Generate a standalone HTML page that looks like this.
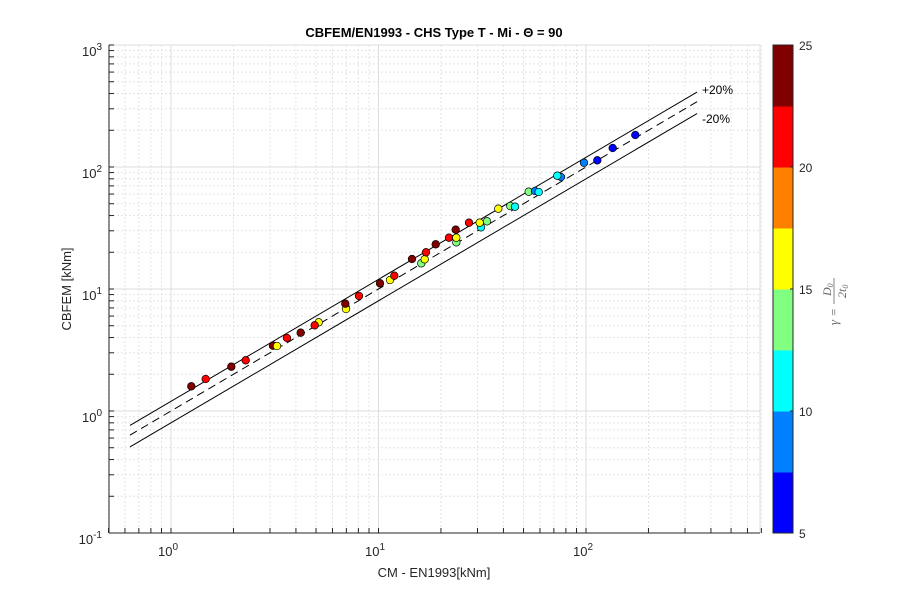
<!DOCTYPE html>
<html><head><meta charset="utf-8"><style>
body{margin:0;background:#fff;width:900px;height:600px;overflow:hidden}
svg{font-family:"Liberation Sans",Arial,sans-serif}
</style></head><body>
<svg id="s" width="900" height="600" xmlns="http://www.w3.org/2000/svg">
<rect width="900" height="600" fill="#fff"/>
<g id="grid"></g>
<g id="lines"></g>
<g id="dots"></g>
<g id="axes"></g>
<text x="434" y="37" font-size="13" font-weight="bold" text-anchor="middle" fill="#000">CBFEM/EN1993 - CHS Type T - Mi - Θ = 90</text>
<text x="434" y="577" font-size="13" text-anchor="middle" fill="#262626">CM - EN1993[kNm]</text>
<text transform="translate(71,289) rotate(-90)" font-size="13" text-anchor="middle" fill="#262626">CBFEM [kNm]</text>
<g font-size="13" fill="#262626" text-anchor="end">
<text x="102" y="56">10<tspan dy="-6" font-size="10">3</tspan></text>
<text x="102" y="178">10<tspan dy="-6" font-size="10">2</tspan></text>
<text x="102" y="300">10<tspan dy="-6" font-size="10">1</tspan></text>
<text x="102" y="422">10<tspan dy="-6" font-size="10">0</tspan></text>
<text x="102" y="544">10<tspan dy="-6" font-size="10">-1</tspan></text>
</g>
<g font-size="13" fill="#262626" text-anchor="middle">
<text x="168" y="556">10<tspan dy="-6" font-size="10">0</tspan></text>
<text x="375" y="556">10<tspan dy="-6" font-size="10">1</tspan></text>
<text x="583" y="556">10<tspan dy="-6" font-size="10">2</tspan></text>
</g>
<text x="702" y="94" font-size="12" fill="#000">+20%</text>
<text x="702" y="123" font-size="12" fill="#000">-20%</text>
<g id="cb"></g>
<g font-size="12" fill="#262626">
<text x="799" y="50">25</text>
<text x="799" y="172">20</text>
<text x="799" y="294">15</text>
<text x="799" y="416">10</text>
<text x="799" y="538">5</text>
</g>
<g transform="translate(838,300) rotate(-90)" fill="#666" font-family="Liberation Serif,serif" font-style="italic" font-size="13">
<text x="-8" y="0" text-anchor="end">γ =</text>
<text x="4" y="-7" font-size="12">D<tspan font-size="8" dy="2">0</tspan></text>
<line x1="-4" y1="-4" x2="22" y2="-4" stroke="#666" stroke-width="0.8"/>
<text x="2" y="8" font-size="12">2t<tspan font-size="8" dy="2">0</tspan></text>
</g>
</svg>
<script>
var NS="http://www.w3.org/2000/svg";
function X(v){return 171+207.5*Math.log10(v);}
function Y(v){return 411-122*Math.log10(v);}
function el(p,t,a){var e=document.createElementNS(NS,t);for(var k in a)e.setAttribute(k,a[k]);document.getElementById(p).appendChild(e);return e;}
var L=109,R=760,T=45,B=533;
var xs=[0.5,0.6,0.7,0.8,0.9];for(var d=0;d<3;d++)for(var m=1;m<10;m++){var v=m*Math.pow(10,d);if(v<=700)xs.push(v);}
xs.forEach(function(v){var x=X(v),maj=Math.abs(Math.log10(v)%1)<1e-9;
el("grid","line",{x1:x,x2:x,y1:T,y2:B,stroke:maj?"#dcdcdc":"#e4e4e4","stroke-width":1,"stroke-dasharray":maj?"":"2,2"});
el("axes","line",{x1:x,x2:x,y1:B,y2:B-5,stroke:"#262626","stroke-width":1});});
var ys=[];for(var d=-1;d<3;d++)for(var m=1;m<10;m++)ys.push(m*Math.pow(10,d));ys.push(1000);
ys.forEach(function(v){var y=Y(v),maj=Math.abs(Math.log10(v)-Math.round(Math.log10(v)))<1e-9;
if(v>0.1&&v<1000)el("grid","line",{x1:L,x2:R,y1:y,y2:y,stroke:maj?"#dcdcdc":"#e4e4e4","stroke-width":1,"stroke-dasharray":maj?"":"2,2"});
el("axes","line",{x1:L,x2:L+5,y1:y,y2:y,stroke:"#262626","stroke-width":1});});
el("grid","line",{x1:L,x2:R,y1:T,y2:T,stroke:"#dcdcdc"});
el("grid","line",{x1:R,x2:R,y1:T,y2:B,stroke:"#dcdcdc"});
el("axes","line",{x1:L,x2:R,y1:B,y2:B,stroke:"#262626"});
el("axes","line",{x1:L,x2:L,y1:T,y2:B,stroke:"#262626"});
var x0=0.634,x1=343;
[[1.2,""],[1,"8,5"],[0.8,""]].forEach(function(f){
el("lines","line",{x1:X(x0),y1:Y(x0*f[0]),x2:X(x1),y2:Y(x1*f[0]),stroke:"#000","stroke-width":1,"stroke-dasharray":f[1]});});
var C={dr:"#800000",r:"#ff0000",y:"#ffff00",g:"#80ff80",c:"#00ffff",b:"#0080ff",db:"#0000ff"};
var P=[[191.3,386.3,"dr"],[205.7,379,"r"],[231.3,366.7,"dr"],[245.7,360.3,"r"],[273,345.7,"dr"],[277,346,"y"],[287,338,"r"],[300.7,332.7,"dr"],[318.7,322.3,"y"],[314.7,325.3,"r"],[346,309,"y"],[345.3,303.7,"dr"],[359,296,"r"],[380,283.3,"dr"],[390,280,"y"],[394.3,275.7,"r"],[412,259,"dr"],[421.3,263.3,"g"],[424.7,259.3,"y"],[426,252.3,"r"],[435.7,244.3,"dr"],[449,237.7,"r"],[456.3,242.3,"g"],[456.3,237.7,"y"],[455.7,229.7,"dr"],[469,222.7,"r"],[481,227.3,"c"],[479.7,222.7,"y"],[487,221.3,"g"],[498.3,208.7,"y"],[510.3,206,"g"],[515,206.7,"c"],[528.7,191.7,"g"],[535,191,"b"],[538.7,192,"c"],[561,177,"b"],[557.3,175.7,"c"],[584,162.7,"b"],[597.3,160.3,"db"],[612.7,148,"db"],[635.3,135,"db"]];
P.forEach(function(p){el("dots","circle",{cx:p[0],cy:p[1],r:3.8,fill:C[p[2]],stroke:"#000","stroke-width":0.7});});
var cols=["#0000ff","#0080ff","#00ffff","#80ff80","#ffff00","#ff8000","#ff0000","#800000"];
var cbL=773,cbR=793,h=(B-T)/8;
cols.forEach(function(c,i){el("cb","rect",{x:cbL,y:B-(i+1)*h,width:cbR-cbL,height:h+0.5,fill:c});});
el("cb","rect",{x:cbL,y:T,width:cbR-cbL,height:B-T,fill:"none",stroke:"#262626","stroke-width":1});
for(var i=0;i<5;i++){var y=T+i*(B-T)/4;el("cb","line",{x1:cbR,x2:cbR-3,y1:y,y2:y,stroke:"#262626"});}
</script>
</body></html>
